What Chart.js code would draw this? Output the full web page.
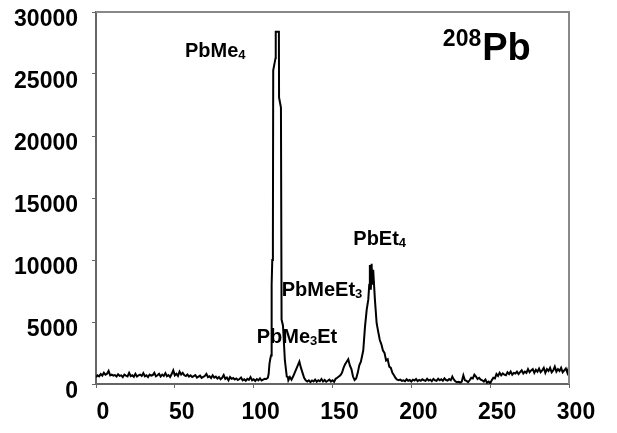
<!DOCTYPE html>
<html><head><meta charset="utf-8">
<script src="https://cdn.jsdelivr.net/npm/chart.js@4.4.0/dist/chart.umd.min.js"></script>
<style>html,body{margin:0;padding:0;background:#fff}</style>
</head><body>
<canvas id="c" width="617" height="433"></canvas>
<script>
// retention time (s) and 208Pb intensity (counts)
const retentionTime = [
0,1,2,3,4,5,6,7,8,9,10,11,12,13,14,15,16,17,18,19,20,21,22,23,24,25,26,27,28,29,
30,31,32,33,34,35,36,37,38,39,40,41,42,43,44,45,46,47,48,49,50,51,52,53,54,55,56,57,58,59,
60,61,62,63,64,65,66,67,68,69,70,71,72,73,74,75,76,77,78,79,80,81,82,83,84,85,86,87,88,89,
90,91,92,93,94,95,96,97,98,99,100,101,102,103,104,105,106,107,108,
109,109.5,110,110.5,111,111.4,111.8,112.2,112.4,113.9,114,116,116.1,117.3,117.7,118.6,119.8,121,121.7,
122,123,124,125,126,127,128,129,130,131,132,133,134,135,136,137,138,139,140,141,142,143,144,145,146,147,148,149,
150,151,152,153,154,155,156,157,158,159,160,161,162,163,164,165,166,167,168,169,169.5,170.6,171.7,172.7,173.3,173.7,
174.3,174.8,175.3,175.8,176.9,178,179,180,181,182,183,184,185,186,187,188,189,190,191,192,
193,194,195,196,197,198,199,200,201,202,203,204,205,206,207,208,209,210,211,212,213,214,215,216,217,218,219,
220,221,222,223,224,225,226,227,228,229,230,231,232,233,234,235,236,237,238,239,240,241,242,243,244,245,246,
247,248,249,250,251,252,253,254,255,256,257,258,259,260,261,262,263,264,265,266,267,268,269,270,271,272,273,
274,275,276,277,278,279,280,281,282,283,284,285,286,287,288,289,290,291,292,293,294,295,296,297,298,299,300
];
const intensity = [
550,700,620,800,680,900,750,820,1050,700,760,680,720,600,780,650,700,560,760,680,620,900,640,700,580,820,600,700,760,650,
880,620,700,560,760,680,720,900,620,700,820,600,760,650,880,620,720,560,800,1100,700,820,650,1000,760,900,700,640,760,600,
700,560,640,720,520,600,680,500,580,640,820,560,620,480,700,520,600,440,560,380,500,720,420,520,300,560,420,480,360,450,
330,400,520,300,380,260,420,340,560,300,380,250,400,300,460,280,350,420,400,
500,800,1600,2000,2300,8000,10000,11500,25300,26300,28400,28400,23100,22300,5200,4700,1900,600,560,
300,560,350,600,900,1200,1500,1800,1300,900,500,300,200,300,150,280,200,350,180,300,220,400,200,320,180,260,350,200,
300,180,420,500,600,700,900,1300,1600,1800,2000,1500,1200,600,320,450,900,1500,1800,2400,2700,4600,6000,6800,8000,9600,
7600,9700,8000,9200,6800,4900,4200,3550,3200,2700,2500,1900,2000,1400,1300,900,700,480,350,300,
350,250,300,220,380,260,320,200,350,280,400,240,330,260,380,300,250,420,280,350,220,400,300,260,420,300,380,
260,450,320,280,400,300,600,350,200,150,180,120,200,700,300,250,150,300,500,450,750,600,400,500,350,300,200,
350,100,200,60,300,500,450,800,650,900,700,850,750,700,950,800,1000,750,900,850,1000,800,950,1100,850,1000,900,
1200,950,1100,1200,900,1150,1000,1250,950,1100,1300,900,1200,1050,1300,950,1100,1400,1000,1200,1050,1300,950,1100,1250,900,1400
];
const xTickValues = [0, 50, 100, 150, 200, 250, 300];
const yTickValues = [0, 5000, 10000, 15000, 20000, 25000, 30000];

const FONT = '"Liberation Sans", Arial, sans-serif';

const labelsPlugin = {
  id: 'peakLabels',
  afterDatasetsDraw(chart) {
    const ctx = chart.ctx;
    const xs = chart.scales.x, ys = chart.scales.y;
    const ca = chart.chartArea;
    ctx.save();
    // top and right frame
    ctx.strokeStyle = '#888';
    ctx.lineWidth = 2;
    ctx.beginPath();
    ctx.moveTo(ca.left, ca.top);
    ctx.lineTo(ca.right, ca.top);
    ctx.lineTo(ca.right, ca.bottom);
    ctx.stroke();
    ctx.fillStyle = '#000';
    ctx.textBaseline = 'alphabetic';
    ctx.textAlign = 'left';
    const items = [
      {x: 56.4, y: 26370, parts: [['PbMe', 0], ['4', 1]]},
      {x: 101.9, y: 3280, parts: [['PbMe', 0], ['3', 1], ['Et', 0]]},
      {x: 117.8, y: 7120, parts: [['PbMeEt', 0], ['3', 1]]},
      {x: 163.2, y: 11210, parts: [['PbEt', 0], ['4', 1]]}
    ];
    for (const it of items) {
      let px = xs.getPixelForValue(it.x);
      const py = ys.getPixelForValue(it.y);
      for (const [t, sub] of it.parts) {
        ctx.font = sub ? 'bold 13px ' + FONT : 'bold 20px ' + FONT;
        ctx.fillText(t, px, py + (sub ? 2 : 0));
        px += ctx.measureText(t).width;
      }
    }
    // isotope label
    let px = xs.getPixelForValue(220);
    const py = ys.getPixelForValue(26130);
    ctx.font = 'bold 23px ' + FONT;
    ctx.fillText('208', px, py - 14);
    px += ctx.measureText('208').width + 1;
    ctx.font = 'bold 38px ' + FONT;
    ctx.fillText('Pb', px, py);
    ctx.restore();
  }
};

new Chart(document.getElementById('c'), {
  type: 'line',
  data: {
    datasets: [{
      data: retentionTime.map((x, i) => ({x: x, y: intensity[i]})),
      borderColor: '#000',
      borderWidth: 2,
      pointRadius: 0,
      tension: 0,
      fill: false
    }]
  },
  options: {
    responsive: false,
    devicePixelRatio: 1,
    animation: false,
    layout: {padding: {top: 12, right: 48, left: 0, bottom: 0}},
    plugins: {legend: {display: false}, tooltip: {enabled: false}},
    scales: {
      x: {
        type: 'linear', min: 0, max: 300,
        afterBuildTicks: s => { s.ticks = xTickValues.map(v => ({value: v})); },
        afterFit: s => { s.height = 49; s.paddingLeft = 0; s.paddingRight = 0; },
        grid: {drawOnChartArea: false, drawTicks: true, tickLength: 4, color: '#666', lineWidth: 1},
        border: {color: '#666', width: 2},
        ticks: {color: '#000', font: {family: FONT, size: 23, weight: 'bold'}, padding: 11, labelOffset: 7, maxRotation: 0, autoSkip: false}
      },
      y: {
        min: 0, max: 30000,
        afterBuildTicks: s => { s.ticks = yTickValues.map(v => ({value: v})); },
        afterFit: s => { s.width = 96; s.paddingTop = 0; s.paddingBottom = 0; },
        grid: {drawOnChartArea: false, drawTicks: true, tickLength: 4, color: '#666', lineWidth: 1},
        border: {color: '#666', width: 2},
        ticks: {color: '#000', font: {family: FONT, size: 23, weight: 'bold'}, padding: 14, labelOffset: 8, autoSkip: false, callback: v => String(v)}
      }
    }
  },
  plugins: [labelsPlugin]
});
</script>
</body></html>
